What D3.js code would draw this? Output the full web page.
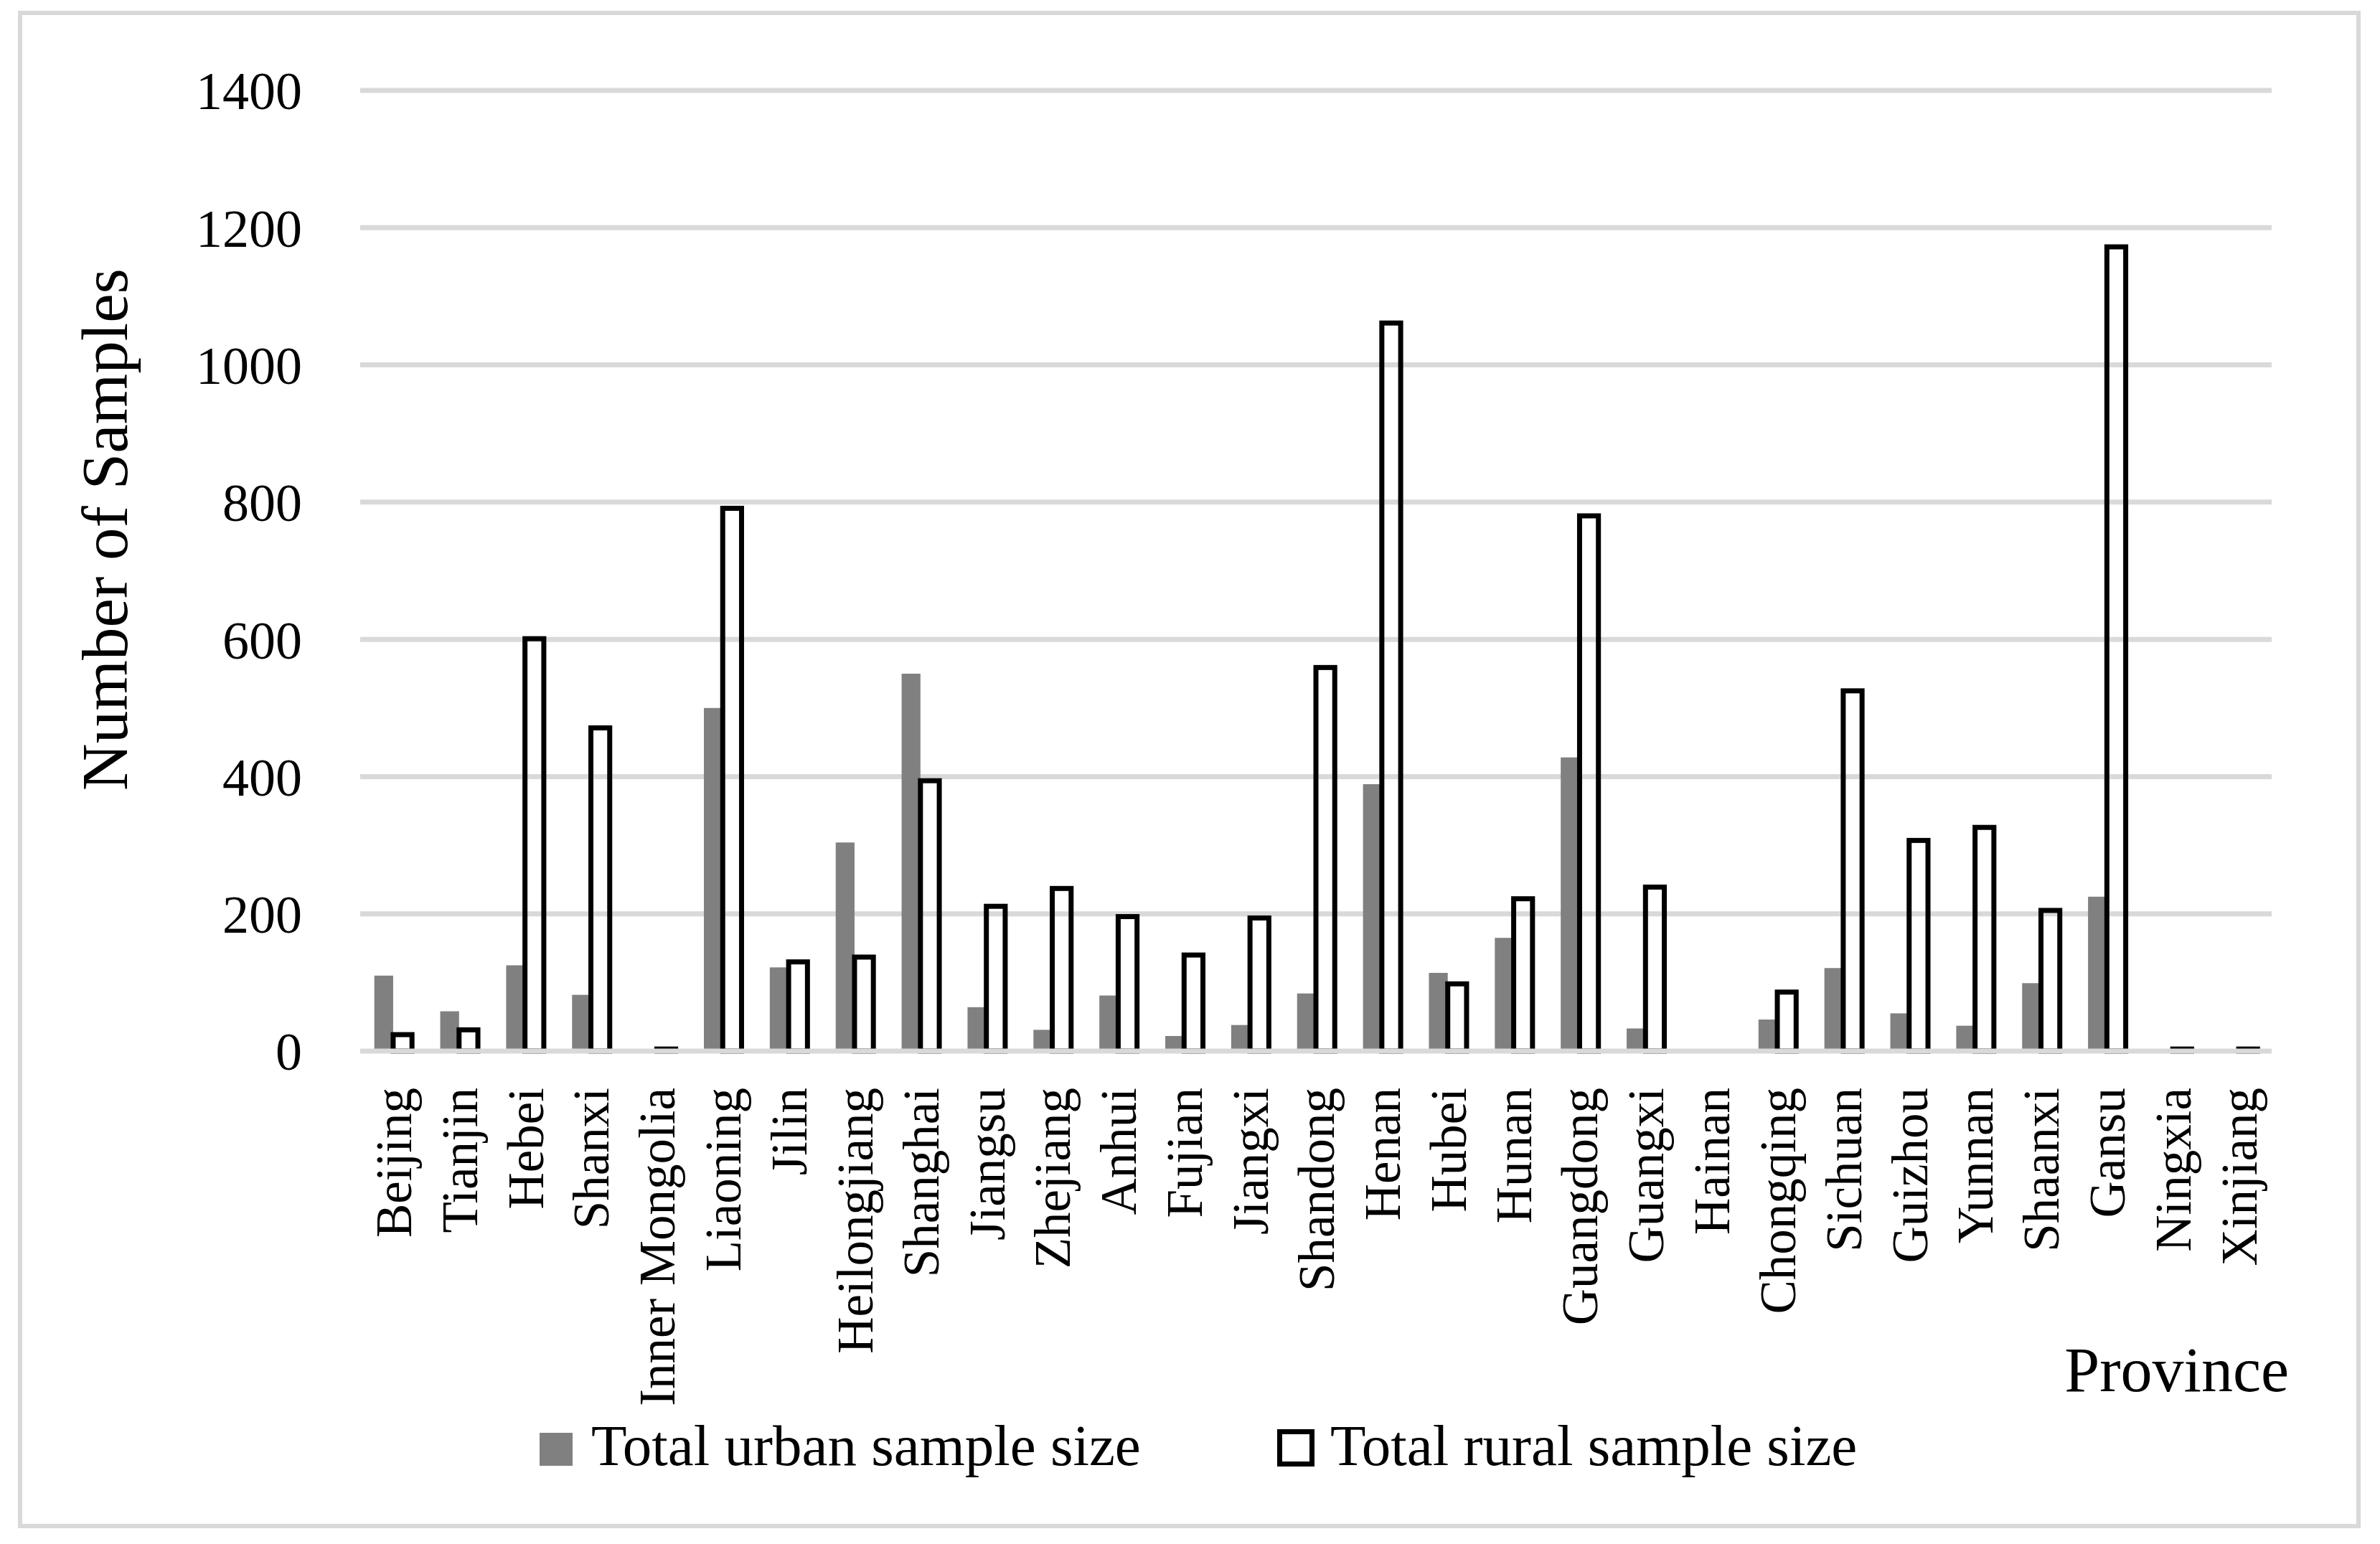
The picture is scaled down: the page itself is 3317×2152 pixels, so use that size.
<!DOCTYPE html>
<meta charset="utf-8">
<style>
  body { margin: 0; background: #fff; }
  text { font-family: "Palatino Linotype", "Book Antiqua", Palatino, "Liberation Serif", serif; fill: #000; }
  .grid line { stroke: #d9d9d9; stroke-width: 7px; }
  .urban { fill: #808080; }
  .rural { fill: none; stroke: #000; stroke-width: 7px; }
</style>
<svg width="3317" height="2152"></svg>
<script src="https://cdn.jsdelivr.net/npm/d3@7/dist/d3.min.js"></script>
<script>
  const provinces = ["Beijing", "Tianjin", "Hebei", "Shanxi", "Inner Mongolia", "Liaoning", "Jilin",
    "Heilongjiang", "Shanghai", "Jiangsu", "Zhejiang", "Anhui", "Fujian", "Jiangxi", "Shandong",
    "Henan", "Hubei", "Hunan", "Guangdong", "Guangxi", "Hainan", "Chongqing", "Sichuan", "Guizhou",
    "Yunnan", "Shaanxi", "Gansu", "Ningxia", "Xinjiang"];
  const urban = [110, 58, 125, 82, 0, 500, 122, 304, 550, 64, 31, 81, 22, 38, 84,
    389, 114, 165, 428, 33, 0, 46, 121, 55, 37, 99, 225, 0, 0];
  const rural = [24, 31, 601, 471, 3, 791, 130, 137, 394, 211, 237, 196, 140, 194, 559,
    1061, 98, 222, 780, 239, 0, 86, 525, 307, 326, 205, 1172, 3, 3];
  const yTicks = [0, 200, 400, 600, 800, 1000, 1200, 1400];
  const seriesNames = ["Total urban sample size", "Total rural sample size"];

  const svg = d3.select("svg");
  const plot = {left: 502, right: 3166, top: 126, bottom: 1465};

  // chart frame
  svg.append("rect")
    .attr("x", 28).attr("y", 18)
    .attr("width", 3287 - 28).attr("height", 2127 - 18)
    .attr("fill", "#fff").attr("stroke", "#d9d9d9").attr("stroke-width", 6);

  const x = d3.scaleBand().domain(provinces).range([plot.left, plot.right]).padding(0);
  const y = d3.scaleLinear().domain([0, 1400]).range([plot.bottom, plot.top]);
  const bw = x.bandwidth() / 3.5; // Excel gap width 150%

  // gridlines (behind bars)
  svg.append("g").attr("class", "grid")
    .selectAll("line")
    .data(yTicks.filter(d => d > 0))
    .enter().append("line")
    .attr("x1", plot.left).attr("x2", plot.right)
    .attr("y1", d => y(d)).attr("y2", d => y(d));

  // y tick labels
  const yAxis = svg.append("g")
    .attr("transform", "translate(" + plot.left + ",0)")
    .call(d3.axisLeft(y).tickValues(yTicks).tickFormat(d3.format("d")).tickSize(0).tickPadding(81));
  yAxis.select(".domain").remove();
  yAxis.selectAll("text")
    .style("font-size", "74px")
    .attr("font-family", null)
    .attr("dy", "0.35em");

  const c = d => x(d) + x.bandwidth() / 2;

  svg.selectAll(".urban")
    .data(provinces)
    .enter().append("rect")
    .attr("class", "urban")
    .attr("x", d => c(d) - bw)
    .attr("width", bw)
    .attr("y", (d, i) => y(urban[i]))
    .attr("height", (d, i) => plot.bottom - y(urban[i]));

  svg.selectAll(".rural")
    .data(provinces.filter((d, i) => rural[i] > 0))
    .enter().append("rect")
    .attr("class", "rural")
    .attr("x", d => c(d))
    .attr("width", bw)
    .attr("y", d => y(rural[provinces.indexOf(d)]))
    .attr("height", d => plot.bottom - y(rural[provinces.indexOf(d)]));

  // baseline drawn over bar bottoms
  svg.append("g").attr("class", "grid")
    .append("line")
    .attr("x1", plot.left).attr("x2", plot.right)
    .attr("y1", y(0)).attr("y2", y(0));

  // category labels
  const xAxis = svg.append("g")
    .attr("transform", "translate(0," + plot.bottom + ")")
    .call(d3.axisBottom(x).tickSize(0));
  xAxis.select(".domain").remove();
  xAxis.selectAll("text")
    .style("font-size", "71px")
    .attr("font-family", null)
    .attr("text-anchor", "end")
    .attr("transform", "rotate(-90)")
    .attr("x", -51)
    .attr("y", 0)
    .attr("dy", "0.35em");

  // axis titles
  svg.append("text")
    .attr("transform", "translate(177,738) rotate(-90)")
    .attr("text-anchor", "middle")
    .style("font-size", "91px")
    .text("Number of Samples");

  svg.append("text")
    .attr("x", 3190).attr("y", 1939)
    .attr("text-anchor", "end")
    .style("font-size", "88px")
    .text("Province");

  // legend
  const legend = svg.append("g");
  legend.append("rect")
    .attr("class", "urban")
    .attr("x", 752).attr("y", 1997).attr("width", 46).attr("height", 46);
  legend.append("text")
    .attr("x", 824).attr("y", 2042)
    .style("font-size", "81px")
    .text(seriesNames[0]);
  legend.append("rect")
    .attr("x", 1783.5).attr("y", 1995.5).attr("width", 45).attr("height", 45)
    .attr("fill", "#fff").attr("stroke", "#000").attr("stroke-width", 7);
  legend.append("text")
    .attr("x", 1854).attr("y", 2042)
    .style("font-size", "81px")
    .text(seriesNames[1]);
</script>
